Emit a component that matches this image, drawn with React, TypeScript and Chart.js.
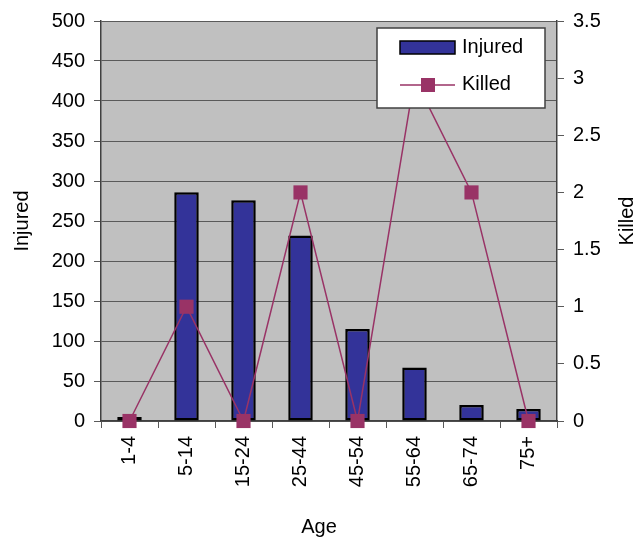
import React, { useEffect, useRef } from "react";
import { Chart, registerables } from "chart.js";

Chart.register(...registerables);

const categories = ["1-4", "5-14", "15-24", "25-44", "45-54", "55-64", "65-74", "75+"];
const injured = [5, 286, 276, 232, 115, 67, 20, 15];
const killed = [0, 1, 0, 2, 0, 3, 2, 0];
const seriesNames = ["Injured", "Killed"];
const axisTitles = { left: "Injured", right: "Killed", bottom: "Age" };

const FONT = "'Liberation Sans', Arial, sans-serif";
const BAR_COLOR = "#333399";
const LINE_COLOR = "#993366";
const GRID = "#5a5a5a";

const decorPlugin = {
  id: "decor",
  beforeDraw(chart: any) {
    const { ctx, chartArea } = chart;
    ctx.save();
    ctx.fillStyle = "#c0c0c0";
    ctx.fillRect(chartArea.left, chartArea.top, chartArea.right - chartArea.left, chartArea.bottom - chartArea.top);
    ctx.restore();
  },
  afterDraw(chart: any) {
    const { ctx, chartArea } = chart;
    ctx.save();
    // titles
    ctx.fillStyle = "#000";
    ctx.font = `20px ${FONT}`;
    ctx.textAlign = "center";
    ctx.textBaseline = "middle";
    const midY = (chartArea.top + chartArea.bottom) / 2;
    ctx.save();
    ctx.translate(22, midY);
    ctx.rotate(-Math.PI / 2);
    ctx.fillText(axisTitles.left, 0, 0);
    ctx.restore();
    ctx.save();
    ctx.translate(627, midY);
    ctx.rotate(-Math.PI / 2);
    ctx.fillText(axisTitles.right, 0, 0);
    ctx.restore();
    ctx.fillText(axisTitles.bottom, 319, 527);

    // legend
    const lx = 377, ly = 28, lw = 168, lh = 80;
    ctx.fillStyle = "#ffffff";
    ctx.fillRect(lx, ly, lw, lh);
    ctx.strokeStyle = "#404040";
    ctx.lineWidth = 1.5;
    ctx.strokeRect(lx, ly, lw, lh);

    ctx.fillStyle = BAR_COLOR;
    ctx.fillRect(400, 41, 55, 13);
    ctx.strokeStyle = "#000";
    ctx.lineWidth = 1.5;
    ctx.strokeRect(400, 41, 55, 13);

    ctx.strokeStyle = LINE_COLOR;
    ctx.lineWidth = 1.5;
    ctx.beginPath();
    ctx.moveTo(400, 85);
    ctx.lineTo(455, 85);
    ctx.stroke();
    ctx.fillStyle = LINE_COLOR;
    ctx.fillRect(421, 78, 14, 14);

    ctx.fillStyle = "#000";
    ctx.textAlign = "left";
    ctx.fillText(seriesNames[0], 462, 47);
    ctx.fillText(seriesNames[1], 462, 84);
    ctx.restore();
  },
};

export default function App() {
  const ref = useRef<HTMLCanvasElement>(null);
  useEffect(() => {
    if (!ref.current) return;
    const tickFont = { family: FONT, size: 20 };
    const chart = new Chart(ref.current, {
      type: "bar",
      data: {
        labels: categories,
        datasets: [
          {
            type: "line",
            label: seriesNames[1],
            data: killed,
            yAxisID: "y1",
            borderColor: LINE_COLOR,
            borderWidth: 1.5,
            pointStyle: "rect",
            pointRadius: 10,
            pointBackgroundColor: LINE_COLOR,
            pointBorderColor: LINE_COLOR,
            pointBorderWidth: 0,
            clip: false,
            order: 0,
          } as any,
          {
            type: "bar",
            label: seriesNames[0],
            data: injured,
            yAxisID: "y",
            backgroundColor: BAR_COLOR,
            borderColor: "#000",
            borderWidth: 2.5,
            borderSkipped: false,
            barPercentage: 0.43,
            categoryPercentage: 1,
            order: 1,
          },
        ],
      },
      options: {
        responsive: false,
        animation: false,
        devicePixelRatio: 1,
        layout: { padding: { top: 18, left: 0, right: 0, bottom: 0 } },
        plugins: { legend: { display: false }, tooltip: { enabled: false } },
        scales: {
          x: {
            grid: { display: true, drawOnChartArea: false, drawTicks: true, tickLength: 7, color: GRID, offset: true },
            border: { display: true, color: "#404040", width: 1.5 },
            ticks: { color: "#000", font: tickFont, minRotation: 90, maxRotation: 90, padding: 8 },
            afterFit(scale: any) { scale.height = 119; },
          },
          y: {
            position: "left",
            min: 0,
            max: 500,
            ticks: { stepSize: 50, color: "#000", font: tickFont, padding: 9 },
            grid: { color: GRID, tickLength: 7, lineWidth: 1 },
            border: { display: true, color: "#404040", width: 1.5 },
            afterFit(scale: any) { scale.width = 101; },
          },
          y1: {
            position: "right",
            min: 0,
            max: 3.5,
            ticks: {
              stepSize: 0.5,
              color: "#000",
              font: tickFont,
              padding: 9,
              callback: (v: any) => String(Number(v)),
            },
            grid: { drawOnChartArea: false, color: GRID, tickLength: 7 },
            border: { display: true, color: "#404040", width: 1.5 },
            afterFit(scale: any) { scale.width = 87; },
          },
        },
      },
      plugins: [decorPlugin],
    });
    return () => chart.destroy();
  }, []);
  return (
    <div style={{ position: "absolute", left: 0, top: 0, width: 644, height: 540, background: "#fff" }}>
      <canvas ref={ref} width={644} height={540} style={{ width: 644, height: 540, display: "block" }} />
    </div>
  );
}
